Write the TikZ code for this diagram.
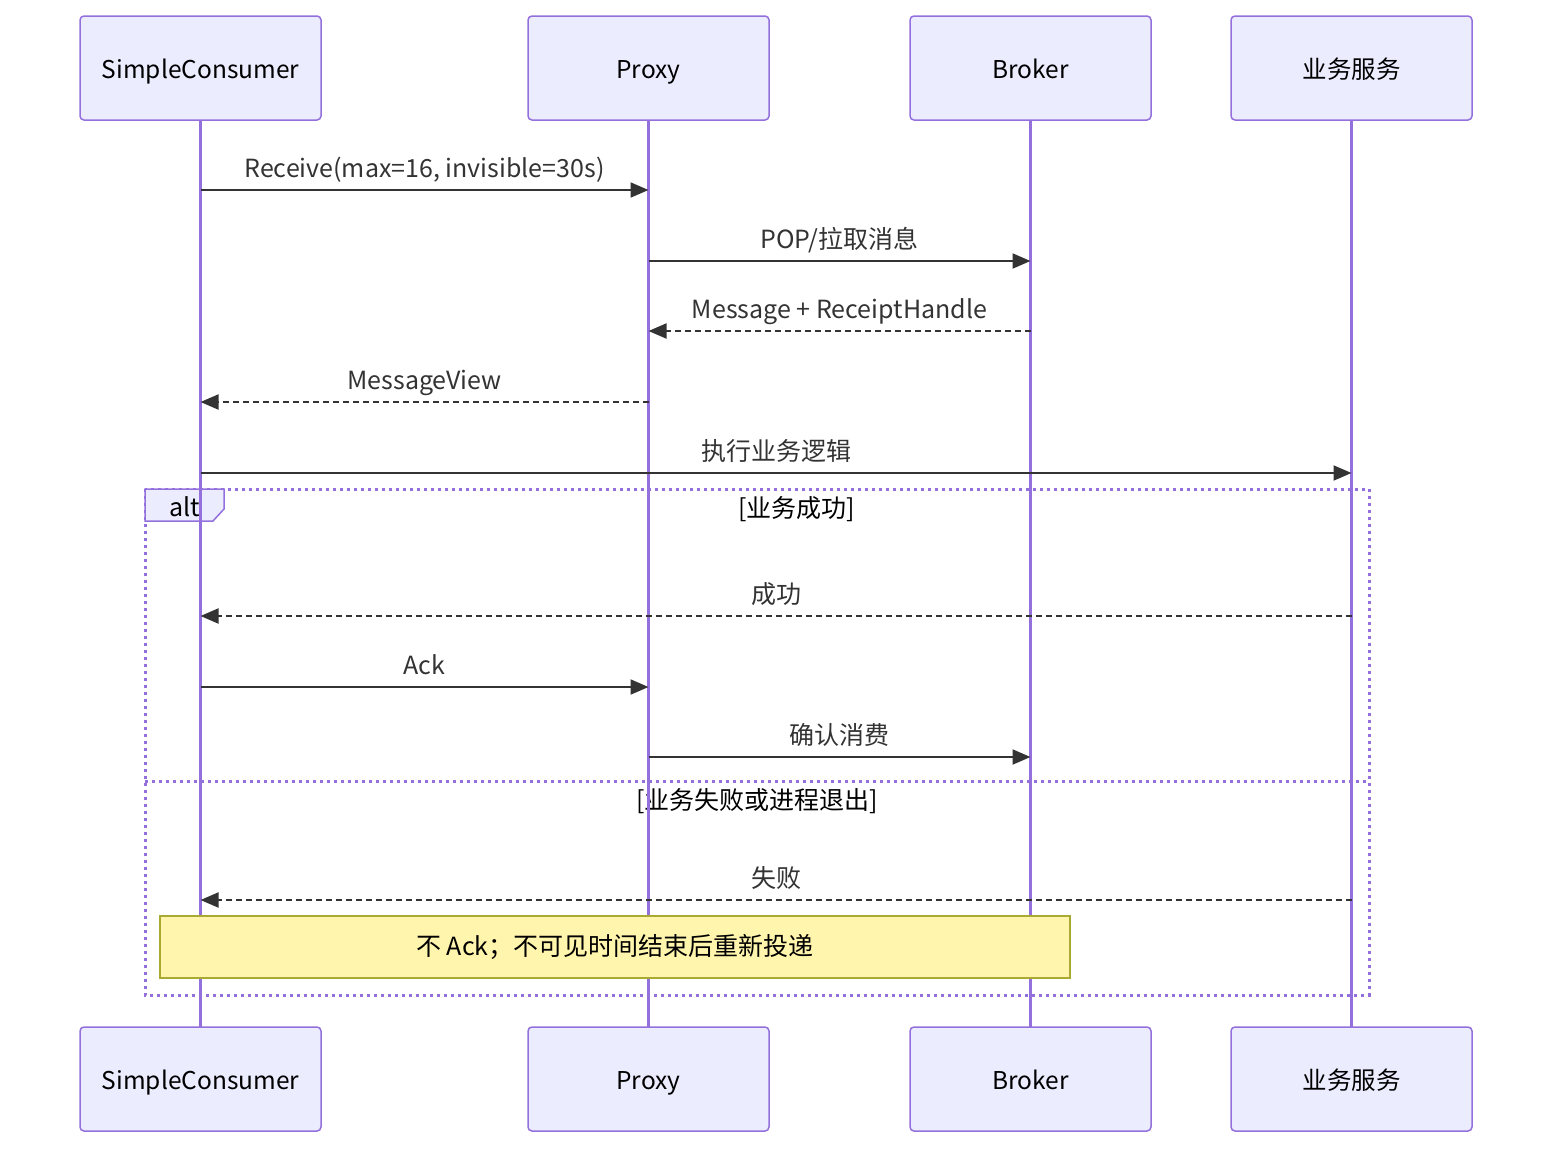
\documentclass[tikz,border=0pt]{standalone}
\usepackage{fontspec}
\newfontfamily\cjk{Noto Sans CJK SC}
\usetikzlibrary{positioning, arrows.meta, calc}
\definecolor{actorfill}{HTML}{ECECFF}
\definecolor{actorline}{HTML}{9370DB}
\definecolor{msgline}{HTML}{333333}
\definecolor{notefill}{HTML}{FFF5AD}
\definecolor{noteline}{HTML}{AAAA33}
\tikzset{
    %Define style for actors
    actor/.style={
           rectangle,
           rounded corners=4pt,
           draw=actorline, line width=1.5pt,
           fill=actorfill,
           outer sep=0pt,
           minimum width=241pt,
           minimum height=104pt,
           text height=20pt, text depth=0pt,
           font=\cjk\fontsize{24.5}{30}\selectfont,
           text=black},
 %
    lifeline/.style={
           draw=actorline,
           line width=3pt},
 %
    % Define arrow style
    msg/.style={
           draw=msgline,
           line width=2pt,
           -{Triangle[length=18pt,width=15pt]}},
    reply/.style={
           msg,
           dash pattern=on 6pt off 4pt},
    msglabel/.style={
           midway,
           anchor=base,
           yshift=13pt,
           inner sep=0pt,
           text=msgline,
           font=\cjk\fontsize{25}{30}\selectfont},
 %
    altframe/.style={
           draw=actorline,
           line width=3pt,
           dash pattern=on 3pt off 4pt},
    alttab/.style={
           draw=actorline,
           line width=1.5pt,
           fill=actorfill},
    sect/.style={
           inner sep=0pt,
           text=black,
           font=\cjk\fontsize{25}{30}\selectfont},
 %
    note/.style={
           rectangle,
           draw=noteline, line width=1.5pt,
           fill=notefill,
           minimum width=910pt,
           minimum height=62pt,
           text=black,
           font=\cjk\fontsize{25}{30}\selectfont}
}

\begin{document}
\begin{tikzpicture}[x=1pt, y=-1pt, node distance=207pt]
  \useasboundingbox (0,0) rectangle (1568,1162);
  % actors
  \node[actor] (sc) at (200.5,68) {SimpleConsumer};
  \node[actor, right=207pt of sc] (proxy) {Proxy};
  \node[actor, right=141pt of proxy] (broker) {Broker};
  \node[actor, right=80pt of broker] (biz) {业务服务};
  \node[actor, below=907pt of sc] (scB) {SimpleConsumer};
  \node[actor, below=907pt of proxy] (proxyB) {Proxy};
  \node[actor, below=907pt of broker] (brokerB) {Broker};
  \node[actor, below=907pt of biz] (bizB) {业务服务};

  % alt block
  \draw[altframe] (145,489) rectangle (1369,995);
  \draw[altframe] (145,781) -- (1369,781);
  \draw[alttab] (145,489) -- (224,489) -- (224,509) -- (213,521) -- (145,521) -- cycle;
  \node[sect] (alt) at (184.5,507) {alt};
  \node[sect] (ok) at (796.5,509) {[业务成功]};
  \node[sect] (fail) at (757,801) {[业务失败或进程退出]};

  % lifelines
  \draw[lifeline] (sc.south) -- (scB.north);
  \draw[lifeline] (proxy.south) -- (proxyB.north);
  \draw[lifeline] (broker.south) -- (brokerB.north);
  \draw[lifeline] (biz.south) -- (bizB.north);

  % messages
  \draw[msg] (sc.south |- 0,190) -- (proxy.south |- 0,190)
     node[msglabel] {Receive(max=16, invisible=30s)};
  \draw[msg] (proxy.south |- 0,261) -- (broker.south |- 0,261)
     node[msglabel] {POP/拉取消息};
  \draw[reply] (broker.south |- 0,331) -- (proxy.south |- 0,331)
     node[msglabel] {Message + ReceiptHandle};
  \draw[reply] (proxy.south |- 0,402) -- (sc.south |- 0,402)
     node[msglabel] {MessageView};
  \draw[msg] (sc.south |- 0,473) -- (biz.south |- 0,473)
     node[msglabel] {执行业务逻辑};
  \draw[reply] (biz.south |- 0,616) -- (sc.south |- 0,616)
     node[msglabel] {成功};
  \draw[msg] (sc.south |- 0,687) -- (proxy.south |- 0,687)
     node[msglabel] {Ack};
  \draw[msg] (proxy.south |- 0,757) -- (broker.south |- 0,757)
     node[msglabel] {确认消费};
  \draw[reply] (biz.south |- 0,900) -- (sc.south |- 0,900)
     node[msglabel] {失败};

  % note
  \node[note] (redeliver) at (615,947) {不 Ack；不可见时间结束后重新投递};
\end{tikzpicture}
\end{document}
